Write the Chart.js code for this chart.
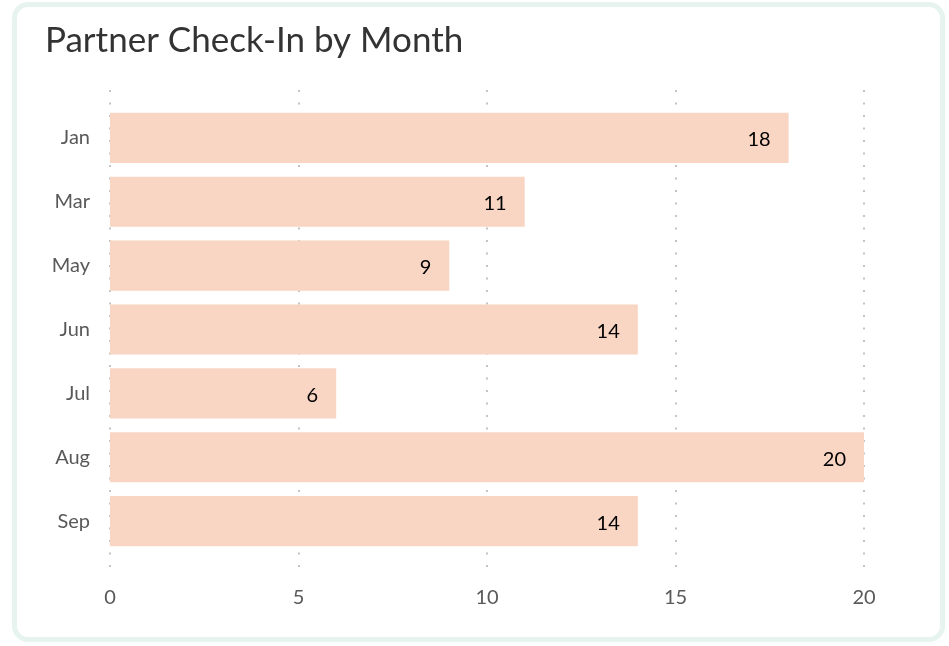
<!DOCTYPE html>
<html>
<head>
<meta charset="utf-8">
<script src="https://cdn.jsdelivr.net/npm/chart.js@4/dist/chart.umd.min.js"></script>
<style>
html,body{margin:0;padding:0;background:#fff;}
#card{position:absolute;left:12px;top:2px;width:923px;height:630px;border:5px solid #e6f3ee;border-radius:16px;background:#fff;}
#wrap{position:absolute;left:0;top:0;width:949px;height:646px;}
</style>
</head>
<body>
<div id="card"></div>
<div id="wrap"><canvas id="c" width="949" height="646"></canvas></div>
<script>
const titleText = "Partner Check-In by Month";
const categories = ["Jan", "Mar", "May", "Jun", "Jul", "Aug", "Sep"];
const checkIns = [18, 11, 9, 14, 6, 20, 14];
const xTicks = [0, 5, 10, 15, 20];

const FONT = "Lato, 'Open Sans', sans-serif";

const gridPlugin = {
  id: 'dotGrid',
  beforeDatasetsDraw(chart) {
    const {ctx, chartArea, scales} = chart;
    const x = scales.x;
    ctx.save();
    ctx.strokeStyle = '#c4c4c4';
    ctx.lineWidth = 2;
    ctx.setLineDash([2, 10.5]);
    xTicks.forEach(v => {
      const px = Math.round(x.getPixelForValue(v));
      ctx.beginPath();
      ctx.moveTo(px, chartArea.top - 16);
      ctx.lineTo(px, chartArea.bottom + 19);
      ctx.stroke();
    });
    ctx.restore();
  }
};

const labelPlugin = {
  id: 'barLabels',
  afterDatasetsDraw(chart) {
    const {ctx} = chart;
    const meta = chart.getDatasetMeta(0);
    ctx.save();
    ctx.font = "20px " + FONT;
    ctx.fillStyle = '#000';
    ctx.textAlign = 'right';
    ctx.textBaseline = 'middle';
    meta.data.forEach((bar, i) => {
      ctx.fillText(String(checkIns[i]), bar.x - 18, bar.y + 2);
    });
    ctx.restore();
  }
};

new Chart(document.getElementById('c'), {
  type: 'bar',
  data: {
    labels: categories,
    datasets: [{
      data: checkIns,
      backgroundColor: '#f9d5c3',
      borderWidth: 0,
      barPercentage: 0.785,
      categoryPercentage: 1
    }]
  },
  options: {
    indexAxis: 'y',
    responsive: false,
    animation: false,
    layout: {padding: {left: 45, right: 85, top: 0, bottom: 3}},
    plugins: {
      legend: {display: false},
      tooltip: {enabled: false},
      title: {
        display: true,
        text: titleText,
        align: 'start',
        color: '#333333',
        font: {family: FONT, size: 35, weight: 'normal'},
        padding: {top: 20, bottom: 44}
      }
    },
    scales: {
      x: {
        min: 0, max: 20,
        grid: {display: false, drawTicks: false},
        border: {display: false},
        afterBuildTicks(scale) { scale.ticks = xTicks.map(v => ({value: v})); },
        ticks: {color: '#595959', font: {family: FONT, size: 20}, padding: 33}
      },
      y: {
        grid: {display: false, drawTicks: false},
        border: {display: false},
        afterFit(scale) { scale.width = 65; },
        ticks: {color: '#595959', font: {family: FONT, size: 20}, padding: 20}
      }
    }
  },
  plugins: [gridPlugin, labelPlugin]
});
</script>
</body>
</html>
